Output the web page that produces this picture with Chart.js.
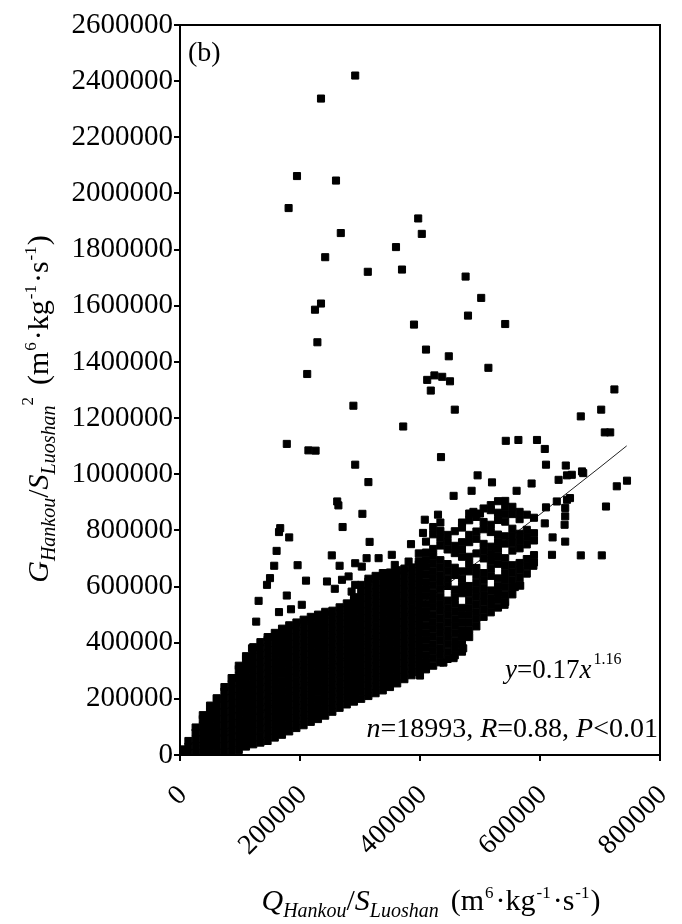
<!DOCTYPE html>
<html>
<head>
<meta charset="utf-8">
<script src="https://cdn.jsdelivr.net/npm/chart.js@4.4.1/dist/chart.umd.min.js"></script>
<style>
  html, body { margin: 0; padding: 0; background: #fff; }
  #wrap { width: 682px; height: 924px; }
</style>
</head>
<body>
<div id="wrap"><canvas id="chart" width="682" height="924"></canvas></div>
<script>
// axis ticks
const xTickValues = [0, 200000, 400000, 600000, 800000];
const yTickValues = [0, 200000, 400000, 600000, 800000, 1000000, 1200000, 1400000,
  1600000, 1800000, 2000000, 2200000, 2400000, 2600000];

// sparse points, [Q/S, G/S^2] in thousands
const outlierPts = [
  [292,2420],[235,2338],[195,2062],[260,2046],[181,1948],[397,1911],[403,1856],[268,1859],
  [360,1809],[242,1773],[370,1729],[313,1721],[476,1704],[502,1628],[235,1608],[225,1586],
  [480,1565],[390,1533],[542,1535],[229,1470],[410,1444],[448,1420],[514,1379],[212,1357],
  [412,1336],[418,1298],[424,1352],[437,1347],[450,1331],[724,1302],[458,1230],
  [702,1230],[668,1206],[289,1244],[372,1170],[708,1149],[717,1149],[543,1119],[564,1122],[595,1122],
  [178,1108],[214,1085],[226,1084],[608,1090],[435,1061],[292,1034],[610,1034],[643,1031],
  [496,996],[520,971],[586,967],[631,980],[645,996],[653,998],[672,1004],[670,1010],[745,977],[728,957],
  [314,972],[486,941],[561,941],[456,923],[628,903],[645,909],[650,915],[642,880],[262,903],[264,889],
  [710,885],[610,882],[304,859],[642,850],[608,825],[641,820],[271,812],[167,808],[165,794],
  [621,775],[182,775],[316,759],[642,760],[385,751],[161,727],[620,713],[668,711],[703,711],[253,711],
  [157,674],[196,676],[266,674],[292,683],[589,674],[150,630],[145,606],[210,621],[245,618],[258,592],
  [131,549],[178,568],[203,535],[185,519],[165,509],[127,475],[120,380],[89,274],[61,202],
  [311,701],[331,701],[353,713],[358,677],[381,689],[406,683],[303,671],[347,630],[400,671],
  [281,636],[292,606],[270,624],[286,582],[567,603],[558,598],[541,535],[478,430],[472,380],
  [456,345],[439,329],[410,309],[400,283],[405,791],[408,838],[430,856],[489,866],[500,860]
];

// dense cloud, one row per column: [Q/S, then G/S^2 values], thousands
const coreColumns = [
  [4, 5, 20],
  [14, 8, 30, 50],
  [26, 8, 32, 56, 80, 98],
  [38, 8, 32, 56, 80, 104, 128, 142],
  [50, 8, 32, 56, 80, 104, 128, 152, 176],
  [62, 8, 32, 56, 80, 104, 128, 152, 176, 200],
  [74, 10, 34, 58, 82, 106, 130, 154, 178, 202, 226, 242],
  [86, 12, 36, 60, 84, 108, 132, 156, 180, 204, 228, 252, 274],
  [98, 18, 42, 66, 90, 114, 138, 162, 186, 210, 234, 258, 282, 306, 318],
  [110, 30, 54, 78, 102, 126, 150, 174, 198, 222, 246, 270, 294, 318, 342, 352],
  [122, 38, 62, 86, 110, 134, 158, 182, 206, 230, 254, 278, 302, 326, 350, 374, 384],
  [134, 44, 68, 92, 116, 140, 164, 188, 212, 236, 260, 284, 308, 332, 356, 380, 402],
  [146, 50, 74, 98, 122, 146, 170, 194, 218, 242, 266, 290, 314, 338, 362, 386, 410, 420],
  [158, 62, 86, 110, 134, 158, 182, 206, 230, 254, 278, 302, 326, 350, 374, 398, 422, 435],
  [170, 72, 96, 120, 144, 168, 192, 216, 240, 264, 288, 312, 336, 360, 384, 408, 432, 450],
  [182, 84, 108, 132, 156, 180, 204, 228, 252, 276, 300, 324, 348, 372, 396, 420, 444, 462],
  [194, 96, 120, 144, 168, 192, 216, 240, 264, 288, 312, 336, 360, 384, 408, 432, 456, 472],
  [206, 106, 130, 154, 178, 202, 226, 250, 274, 298, 322, 346, 370, 394, 418, 442, 466, 482],
  [218, 118, 142, 166, 190, 214, 238, 262, 286, 310, 334, 358, 382, 406, 430, 454, 478, 492],
  [230, 128, 152, 176, 200, 224, 248, 272, 296, 320, 344, 368, 392, 416, 440, 464, 488, 500],
  [242, 140, 164, 188, 212, 236, 260, 284, 308, 332, 356, 380, 404, 428, 452, 476, 500, 510],
  [254, 154, 178, 202, 226, 250, 274, 298, 322, 346, 370, 394, 418, 442, 466, 490, 514],
  [266, 168, 192, 216, 240, 264, 288, 312, 336, 360, 384, 408, 432, 456, 480, 504, 526],
  [278, 180, 204, 228, 252, 276, 300, 324, 348, 372, 396, 420, 444, 468, 492, 516, 540],
  [290, 190, 214, 238, 262, 286, 310, 334, 358, 382, 406, 430, 454, 478, 502, 526, 550, 562],
  [302, 200, 224, 248, 272, 296, 320, 344, 368, 392, 416, 440, 464, 488, 512, 536, 560, 584, 606],
  [314, 210, 234, 258, 282, 306, 330, 354, 378, 402, 426, 450, 474, 498, 522, 546, 570, 594, 618, 628],
  [326, 220, 244, 268, 292, 316, 340, 364, 388, 412, 436, 460, 484, 508, 532, 556, 580, 604, 628, 638],
  [338, 230, 254, 278, 302, 326, 350, 374, 398, 422, 446, 470, 494, 518, 542, 566, 590, 614, 638, 648],
  [350, 242, 266, 290, 314, 338, 362, 386, 410, 434, 458, 482, 506, 530, 554, 578, 602, 626, 650],
  [362, 255, 279, 303, 327, 351, 375, 399, 423, 447, 471, 495, 519, 543, 567, 591, 615, 639, 658],
  [374, 270, 294, 318, 342, 366, 390, 414, 438, 462, 486, 510, 534, 558, 582, 606, 630, 654, 664],
  [386, 284, 308, 332, 356, 380, 404, 428, 452, 476, 500, 524, 548, 572, 596, 620, 644, 668],
  [398, 295, 319, 343, 367, 391, 415, 439, 463, 487, 511, 535, 559, 583, 607, 631, 655, 679, 690, 718],
  [410, 305, 331, 357, 383, 409, 435, 461, 487, 513, 539, 565, 591, 617, 643, 669, 695, 721, 760],
  [422, 318, 344, 370, 396, 422, 448, 474, 500, 526, 552, 578, 604, 630, 656, 682, 708, 734, 786, 812],
  [434, 330, 356, 382, 408, 434, 460, 486, 512, 538, 564, 590, 616, 642, 668, 694, 746, 772, 798, 828],
  [446, 342, 368, 394, 420, 446, 472, 498, 524, 550, 602, 628, 654, 680, 732, 758, 784],
  [458, 355, 381, 407, 433, 459, 485, 511, 537, 563, 589, 641, 667, 719, 745, 797],
  [470, 368, 394, 420, 446, 472, 498, 524, 576, 602, 628, 654, 706, 732, 758, 810, 828],
  [482, 420, 446, 472, 498, 524, 550, 576, 602, 654, 680, 706, 758, 784, 836, 860],
  [494, 458, 484, 510, 536, 562, 588, 614, 640, 666, 718, 770, 796, 848],
  [506, 492, 518, 544, 570, 596, 622, 648, 700, 726, 752, 804, 830, 878],
  [518, 508, 534, 560, 586, 638, 664, 690, 716, 742, 794, 820, 872, 890],
  [530, 525, 551, 577, 603, 629, 681, 707, 733, 759, 785, 837, 863, 904],
  [542, 545, 571, 597, 623, 649, 675, 701, 753, 779, 831, 857, 883, 905],
  [554, 572, 598, 624, 650, 676, 728, 754, 780, 806, 858, 884],
  [566, 606, 632, 658, 684, 736, 762, 788, 840, 866],
  [578, 646, 672, 698, 750, 776, 802, 856],
  [590, 686, 712, 764, 790, 845]
];

// fitted curve y = 0.17x^1.16, as drawn
const fitX = [10000, 100000, 200000, 300000, 400000, 500000, 600000, 700000, 744500];
const fitY = [7400, 107300, 239700, 383600, 535600, 693900, 857200, 1025000, 1101000];

const serif = "'Liberation Serif', 'Times New Roman', serif";
const F = (size, italic) => (italic ? 'italic ' : '') + size + 'px ' + serif;

const points = outlierPts.map(p => ({ x: p[0] * 1000, y: p[1] * 1000 }))
  .concat(coreColumns.flatMap(c => c.slice(1).map(y => ({ x: c[0] * 1000, y: y * 1000 }))));
const fitLine = fitX.map((x, i) => ({ x: x, y: fitY[i] }));

function drawRuns(ctx, runs, x, y, align) {
  let w = 0;
  runs.forEach(r => { ctx.font = r.f; w += ctx.measureText(r.t).width + (r.gap || 0); });
  let cx = align === 'center' ? x - w / 2 : align === 'right' ? x - w : x;
  runs.forEach(r => {
    ctx.font = r.f;
    cx += r.gap || 0;
    ctx.fillText(r.t, cx, y + (r.dy || 0));
    cx += ctx.measureText(r.t).width;
  });
}

const unitRuns = [
  { t: '(m', f: F(30), gap: 12 }, { t: '6', f: F(17), dy: -12, gap: 1 },
  { t: '\u00b7kg', f: F(30), gap: 2 }, { t: '-1', f: F(17), dy: -12, gap: 1 },
  { t: '\u00b7s', f: F(30), gap: 2 }, { t: '-1', f: F(17), dy: -12, gap: 1 },
  { t: ')', f: F(30), gap: 1 }
];

const framePlugin = {
  id: 'frame',
  afterDraw(chart) {
    const { ctx, chartArea: a } = chart;
    ctx.save();
    ctx.strokeStyle = '#000';
    ctx.lineWidth = 2;
    ctx.beginPath();
    ctx.moveTo(a.left, a.top);
    ctx.lineTo(a.right, a.top);
    ctx.lineTo(a.right, a.bottom);
    ctx.stroke();

    ctx.fillStyle = '#000';
    ctx.textAlign = 'left';
    ctx.textBaseline = 'alphabetic';
    drawRuns(ctx, [{ t: '(b)', f: F(28) }], a.left + 8, a.top + 36, 'left');
    drawRuns(ctx, [
      { t: 'y', f: F(27, true) }, { t: '=0.17', f: F(27) }, { t: 'x', f: F(27, true) },
      { t: '1.16', f: F(16), dy: -14, gap: 2 }
    ], a.left + 325, a.bottom - 77, 'left');
    drawRuns(ctx, [
      { t: 'n', f: F(28, true) }, { t: '=18993, ', f: F(28) },
      { t: 'R', f: F(28, true) }, { t: '=0.88, ', f: F(28) },
      { t: 'P', f: F(28, true) }, { t: '<0.01', f: F(28) }
    ], a.right - 2, a.bottom - 18, 'right');

    // x axis title
    drawRuns(ctx, [
      { t: 'Q', f: F(30, true) }, { t: 'Hankou', f: F(20, true), dy: 7 },
      { t: '/', f: F(30) }, { t: 'S', f: F(30, true) }, { t: 'Luoshan', f: F(20, true), dy: 7 }
    ].concat(unitRuns), 431, 910, 'center');

    // y axis title
    ctx.translate(48, 409);
    ctx.rotate(-Math.PI / 2);
    drawRuns(ctx, [
      { t: 'G', f: F(30, true) }, { t: 'Hankou', f: F(20, true), dy: 7 },
      { t: '/', f: F(30) }, { t: 'S', f: F(30, true) }, { t: 'Luoshan', f: F(20, true), dy: 7 },
      { t: '2', f: F(17), dy: -15 }
    ].concat(unitRuns), 0, 0, 'center');
    ctx.restore();
  }
};

const ctx = document.getElementById('chart').getContext('2d');
new Chart(ctx, {
  type: 'scatter',
  data: {
    datasets: [
      {
        data: points,
        pointStyle: 'rect',
        pointRadius: 5,
        backgroundColor: '#000',
        borderColor: '#000',
        borderWidth: 1,
        clip: 0
      },
      {
        type: 'line',
        data: fitLine,
        borderColor: '#222',
        borderWidth: 1,
        pointRadius: 0,
        fill: false,
        clip: 0
      }
    ]
  },
  options: {
    responsive: false,
    animation: false,
    devicePixelRatio: 1,
    layout: { padding: { top: 25, right: 22, left: 0, bottom: 0 }, autoPadding: false },
    plugins: { legend: { display: false }, tooltip: { enabled: false } },
    scales: {
      x: {
        type: 'linear',
        min: 0,
        max: 800000,
        afterBuildTicks: s => { s.ticks = xTickValues.map(v => ({ value: v })); },
        afterFit: s => { s.height = 169; s.paddingLeft = 0; s.paddingRight = 0; },
        ticks: {
          callback: v => String(v),
          autoSkip: false,
          minRotation: 45,
          maxRotation: 45,
          padding: 18,
          labelOffset: 3,
          color: '#000',
          font: { family: serif, size: 28 }
        },
        grid: { drawOnChartArea: false, drawTicks: true, tickLength: 6, color: '#000', lineWidth: 2 },
        border: { color: '#000', width: 2 }
      },
      y: {
        type: 'linear',
        min: 0,
        max: 2600000,
        afterBuildTicks: s => { s.ticks = yTickValues.map(v => ({ value: v })); },
        afterFit: s => { s.width = 180; s.paddingTop = 0; s.paddingBottom = 0; },
        ticks: {
          callback: v => String(v),
          autoSkip: false,
          padding: 1,
          color: '#000',
          font: { family: serif, size: 29 }
        },
        grid: { drawOnChartArea: false, drawTicks: true, tickLength: 6, color: '#000', lineWidth: 2 },
        border: { color: '#000', width: 2 }
      }
    }
  },
  plugins: [framePlugin]
});
</script>
</body>
</html>
